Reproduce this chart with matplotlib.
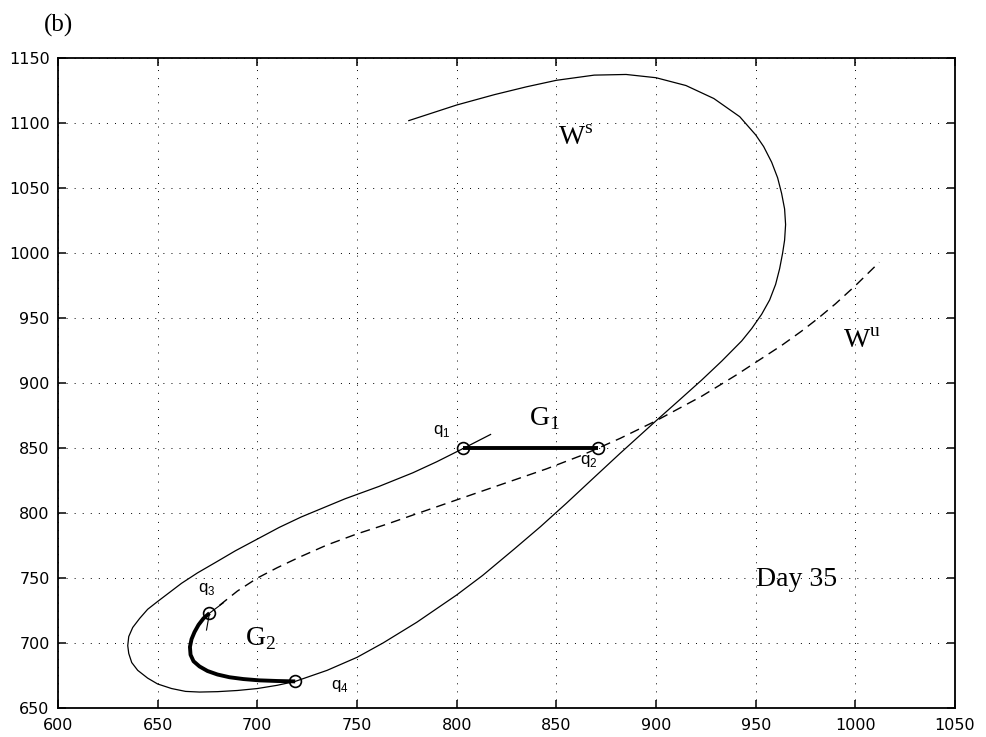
import matplotlib
matplotlib.use("Agg")
import matplotlib.pyplot as plt

# Stable manifold W^s (solid), traced from its upper end around the loop
ws_x = [776, 790, 800, 819, 835, 850, 869, 885, 900, 915, 929, 942, 946, 950,
        954, 958, 961, 963, 964.5, 965, 964.5, 963.5, 962, 960, 957, 953, 948,
        943, 933, 923, 911, 900, 882, 869, 855, 842, 829, 813, 800, 780, 763,
        750, 735, 719, 710, 700, 690, 680, 671, 664, 657, 650, 645, 640, 637,
        635.5, 635, 635.5, 637.5, 641, 645, 650, 656, 662, 670, 679, 689, 700,
        711, 722, 733, 744, 761, 778, 790, 803, 817]
ws_y = [1102, 1109, 1114, 1122, 1128, 1133, 1137, 1137.5, 1135, 1129, 1119,
        1105, 1098, 1091, 1082, 1070, 1058, 1046, 1034, 1022, 1010, 1000, 988,
        976, 964, 953, 942, 932.5, 917, 902.5, 886, 871, 846, 827.5, 807.5,
        789.5, 772.5, 752, 737, 716, 700, 689, 679, 670.5, 667.5, 665, 663.5,
        662.6, 662.3, 662.8, 665, 668.5, 673, 679, 685, 692, 698, 705, 712, 719,
        726, 732, 739, 746, 754, 762, 771, 780, 789, 797, 804, 811, 820.5, 831,
        839.5, 849.5, 860.5]

# Unstable manifold W^u (dashed)
wu_x = [681, 690, 700, 710, 721, 735, 750, 765, 779, 795, 811, 828, 845, 862,
        871, 882, 900, 923, 940, 950, 963, 973, 981, 990, 1000, 1012]
wu_y = [729, 740, 750, 758, 766, 775.5, 784, 791.5, 799, 807.5, 816, 825, 834,
        844, 850, 857.5, 871, 890, 906, 916, 929, 940, 949.5, 961, 975, 993]

# Short solid piece of the curve through q3
q3_tail_x = [683, 676, 674.5]
q3_tail_y = [731, 723, 710]

# Segment G1 (q1 -> q2) and curve G2 (q3 -> q4)
g1_x = [803, 871]
g1_y = [850, 850]
g2_x = [676, 673, 670.5, 668.5, 667, 666.2, 666.5, 668, 671, 675, 680, 686,
        693, 701, 710, 719]
g2_y = [723, 719, 714, 708.5, 703, 697, 691, 686, 682, 678.5, 675.8, 673.7,
        672.3, 671.3, 670.8, 670.5]

# Marked points q1..q4
q_x = [803, 871, 676, 719]
q_y = [850, 850, 723, 670.5]
q_names = ["1", "2", "3", "4"]
q_label_x = [788, 862, 670, 737]
q_label_y = [861, 838, 739, 664.5]

xticks = [600, 650, 700, 750, 800, 850, 900, 950, 1000, 1050]
yticks = [650, 700, 750, 800, 850, 900, 950, 1000, 1050, 1100, 1150]

fig = plt.figure(figsize=(9.86, 7.37), dpi=100)
ax = fig.add_axes([0.0588, 0.0393, 0.9098, 0.8817])

ax.plot(ws_x, ws_y, color="black", lw=0.9, solid_joinstyle="round")
ax.plot(wu_x, wu_y, color="black", lw=1.0, linestyle=(0, (7, 4.5)))
ax.plot(q3_tail_x, q3_tail_y, color="black", lw=0.8)
ax.plot(g1_x, g1_y, color="black", lw=2.8, solid_capstyle="butt")
ax.plot(g2_x, g2_y, color="black", lw=2.8, solid_capstyle="butt",
        solid_joinstyle="round")
ax.plot(q_x, q_y, linestyle="none", marker="o", ms=8.5, mfc="none",
        mec="black", mew=1.2)

sans = "Liberation Sans"
for lx, ly, n in zip(q_label_x, q_label_y, q_names):
    ax.text(lx, ly, r"q$_{\mathregular{%s}}$" % n, fontsize=12, family=sans,
            ha="left", va="baseline")

serif = "Liberation Serif"
ax.text(851, 1083, r"W$^{\mathregular{s}}$", fontsize=20, family=serif,
        ha="left", va="baseline")
ax.text(994, 927, r"W$^{\mathregular{u}}$", fontsize=20, family=serif,
        ha="left", va="baseline")
ax.text(836.5, 867.5, r"G$_{\mathregular{1}}$", fontsize=20, family=serif,
        ha="left", va="baseline")
ax.text(694, 698, r"G$_{\mathregular{2}}$", fontsize=20, family=serif,
        ha="left", va="baseline")
ax.text(950, 744, "Day 35", fontsize=20, family=serif,
        ha="left", va="baseline")

fig.text(0.045, 0.966, "(b)", fontsize=18, family=serif, ha="left",
         va="center")

ax.set_xlim(600, 1050)
ax.set_ylim(650, 1150)
ax.set_xticks(xticks)
ax.set_yticks(yticks)
ax.set_xticklabels([str(t) for t in xticks], family="DejaVu Sans",
                   fontsize=11.5)
ax.set_yticklabels([str(t) for t in yticks], family="DejaVu Sans",
                   fontsize=11.5)
ax.tick_params(direction="in", length=6, width=1.1, top=True, right=True,
               pad=6, colors="black")
ax.tick_params(axis="x", pad=7)
ax.grid(True, color="black", lw=0.7, linestyle=(0, (1, 7.3)))
for s in ax.spines.values():
    s.set_linewidth(1.3)
    s.set_color("black")

fig.savefig("out.png", dpi=100)
